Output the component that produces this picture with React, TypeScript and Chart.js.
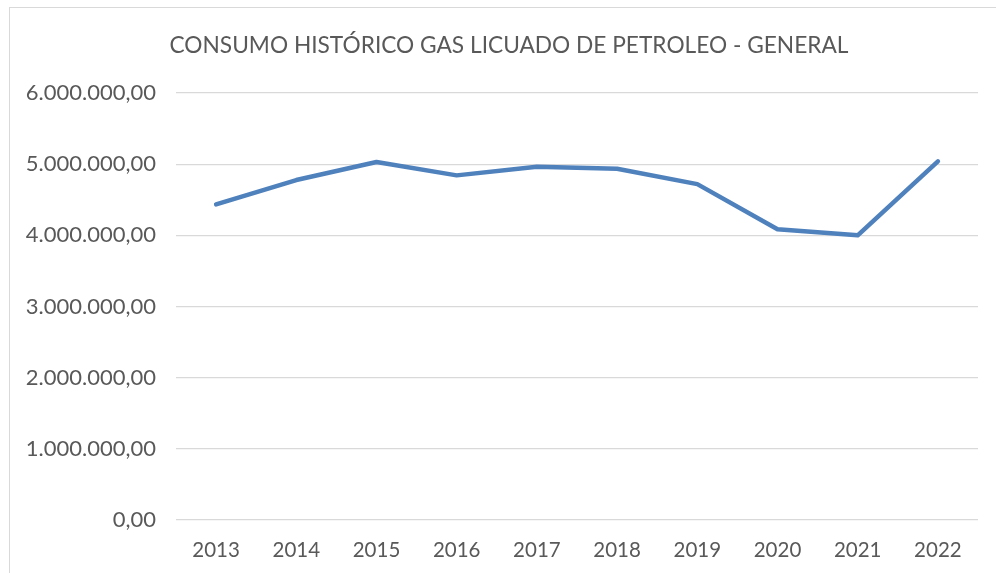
import React, { useEffect, useRef } from "react";
import { Chart, registerables } from "chart.js";

Chart.register(...registerables);

// Consumo anual de GLP (2013–2022)
const years: string[] = ["2013", "2014", "2015", "2016", "2017", "2018", "2019", "2020", "2021", "2022"];
const consumo: number[] = [4436000, 4777000, 5030000, 4843000, 4964000, 4936000, 4720000, 4085000, 4000000, 5040000];

const Y_MIN = 0;
const Y_MAX = 6000000;
const Y_STEP = 1000000;

const TITLE = "CONSUMO HISTÓRICO GAS LICUADO DE PETROLEO - GENERAL";
const FONT = "Lato, 'Open Sans', sans-serif";
const TEXT = "#595959";
const GRID = "#d9d9d9";
const LINE = "#4f81bd";

// Formato es: separador de miles "." y decimal ","
function formatNumber(v: number): string {
  const fixed = Math.abs(v).toFixed(2);
  const [intPart, dec] = fixed.split(".");
  const withDots = intPart.replace(/\B(?=(\d{3})+(?!\d))/g, ".");
  return (v < 0 ? "-" : "") + withDots + "," + dec;
}

const CANVAS_W = 998;
const CANVAS_H = 600;

export default function App() {
  const canvasRef = useRef<HTMLCanvasElement | null>(null);

  useEffect(() => {
    const canvas = canvasRef.current;
    if (!canvas) return;
    const chart = new Chart(canvas, {
      type: "line",
      data: {
        labels: years,
        datasets: [
          {
            label: "Consumo",
            data: consumo,
            yAxisID: "y",
            borderColor: LINE,
            backgroundColor: LINE,
            borderWidth: 4.5,
            borderCapStyle: "round",
            borderJoinStyle: "round",
            pointRadius: 0,
            pointHoverRadius: 0,
            tension: 0,
            fill: false,
          },
        ],
      },
      options: {
        responsive: false,
        animation: false,
        devicePixelRatio: 1,
        layout: { padding: 0 },
        plugins: {
          legend: { display: false },
          tooltip: { enabled: false },
          title: {
            display: true,
            text: TITLE,
            color: TEXT,
            font: { family: FONT, size: 22.7, weight: "normal" },
            padding: { top: 24.4, bottom: 33.4 },
          },
        },
        scales: {
          x: {
            offset: true,
            grid: { display: false, drawTicks: false },
            border: { display: false },
            ticks: {
              color: TEXT,
              font: { family: FONT, size: 20.5 },
              padding: 18.5,
              maxRotation: 0,
              autoSkip: false,
            },
            afterFit: (scale: any) => {
              scale.height = 88;
            },
          },
          y: {
            min: Y_MIN,
            max: Y_MAX,
            grid: { color: GRID, lineWidth: 1.3, drawTicks: false },
            border: { display: false },
            ticks: {
              stepSize: Y_STEP,
              color: TEXT,
              font: { family: FONT, size: 22 },
              padding: 20,
              callback: (v: any) => formatNumber(Number(v)),
            },
            afterFit: (scale: any) => {
              scale.width = 166;
            },
          },
          // right-hand spacer so the plot ends short of the frame
          spacer: {
            type: "linear",
            position: "right",
            display: true,
            grid: { display: false, drawTicks: false },
            border: { display: false },
            ticks: { display: false },
            afterFit: (scale: any) => {
              scale.width = 30;
            },
          },
        },
      },
    });
    return () => chart.destroy();
  }, []);

  return (
    <div
      style={{
        position: "fixed",
        left: 0,
        top: 0,
        width: 996,
        height: 573,
        overflow: "hidden",
        background: "#ffffff",
      }}
    >
      <div
        style={{
          position: "absolute",
          left: 9,
          top: 7,
          width: CANVAS_W,
          height: CANVAS_H,
          border: "1px solid #d9d9d9",
          background: "#ffffff",
        }}
      >
        <canvas
          ref={canvasRef}
          width={CANVAS_W}
          height={CANVAS_H}
          style={{ display: "block", width: CANVAS_W, height: CANVAS_H }}
        />
      </div>
    </div>
  );
}
